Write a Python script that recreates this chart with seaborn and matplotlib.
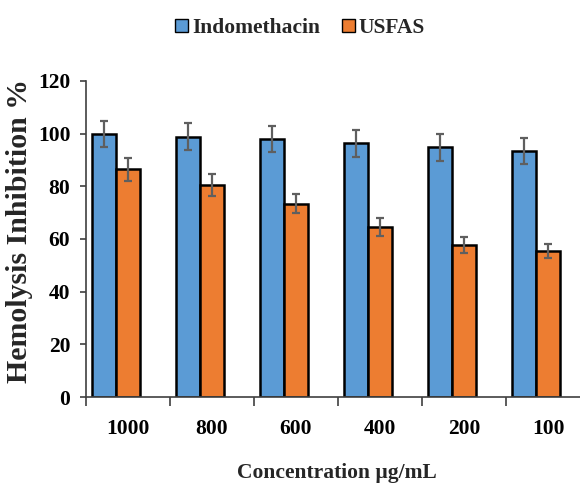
import numpy as np
import pandas as pd
import seaborn as sns
import matplotlib.pyplot as plt
from matplotlib.patches import Patch

# Hemolysis inhibition (%) at each concentration (µg/mL)
concentrations = ["1000", "800", "600", "400", "200", "100"]
indomethacin = [99.9, 98.9, 98.0, 96.3, 94.8, 93.5]
indomethacin_err = [5.0, 5.0, 5.0, 5.0, 5.0, 5.0]
usfas = [86.5, 80.5, 73.4, 64.6, 57.8, 55.4]
usfas_err = [4.3, 4.1, 3.7, 3.4, 3.0, 2.8]

series_names = ["Indomethacin", "USFAS"]
colors = {"Indomethacin": "#5B9BD5", "USFAS": "#ED7D31", " ": "white"}

df = pd.DataFrame({
    "conc": concentrations * 2,
    "value": indomethacin + usfas,
    "series": ["Indomethacin"] * len(concentrations) + ["USFAS"] * len(concentrations),
})

sns.set_theme(style="ticks")
plt.rcParams["font.family"] = ["Liberation Serif", "DejaVu Serif"]
plt.rcParams["font.weight"] = "bold"

fig = plt.figure(figsize=(5.8, 4.86), dpi=100)
ax = fig.add_axes([86 / 580, 1 - 397 / 486, (590 - 86) / 580, (397 - 81) / 486])

# a third, empty slot per group keeps the Excel-style clustered layout
sns.barplot(
    data=df, x="conc", y="value", hue="series", order=concentrations,
    hue_order=series_names + [" "], palette=colors, width=0.858,
    saturation=1, edgecolor="black", linewidth=1.8, errorbar=None,
    legend=False, ax=ax,
)

for cont, errs in zip(ax.containers, [indomethacin_err, usfas_err]):
    bars = sorted(cont.patches, key=lambda p: p.get_x())
    xs = [p.get_x() + p.get_width() / 2 for p in bars]
    hs = [p.get_height() for p in bars]
    ax.errorbar(xs, hs, yerr=errs, fmt="none", ecolor="#5f5f5f",
                elinewidth=1.6, capsize=2.6, capthick=1.6, zorder=5)

ax.set_xlim(-0.5, len(concentrations) - 0.5)
ax.set_ylim(0, 120)
ax.set_yticks(np.arange(0, 121, 20))

# tick marks sit between categories, labels at the category centres
ax.set_xticks(np.arange(-0.5, len(concentrations), 1))
ax.set_xticklabels([])
ax.set_xticks(np.arange(len(concentrations)), minor=True)
ax.set_xticklabels(concentrations, minor=True)
ax.tick_params(axis="x", which="major", length=6.5, width=1.2, color="#404040",
               direction="out")
ax.tick_params(axis="x", which="minor", length=0, pad=16, labelsize=15.5)
ax.tick_params(axis="y", length=4.3, width=1.2, color="#404040", pad=7,
               labelsize=15.5)
for lab in ax.get_xticklabels(minor=True) + ax.get_yticklabels():
    lab.set_fontweight("bold")
    lab.set_color("black")

sns.despine(ax=ax)
for side in ("left", "bottom"):
    ax.spines[side].set_color("#404040")
    ax.spines[side].set_linewidth(1.2)

ax.set_ylabel("Hemolysis Inhibition %", fontsize=21.5, fontweight="bold")
ax.yaxis.label.set_va("center")
ax.yaxis.set_label_coords((20 - 86) / 504, (397 - 231) / 316)
ax.set_xlabel("Concentration µg/mL", fontsize=15.5, fontweight="bold")
ax.xaxis.label.set_va("center")
ax.xaxis.set_label_coords(0.498, (397 - 473) / 316)

handles = [Patch(facecolor=colors[s], edgecolor="black", linewidth=1.0) for s in series_names]
fig.legend(handles, series_names, loc="center", bbox_to_anchor=(300 / 580, 1 - 28 / 486),
           ncol=2, frameon=False, handlelength=0.6, handleheight=0.6,
           handletextpad=0.2, columnspacing=1.0, prop={"weight": "bold", "size": 15.5})

fig.savefig("out.png", dpi=100)
